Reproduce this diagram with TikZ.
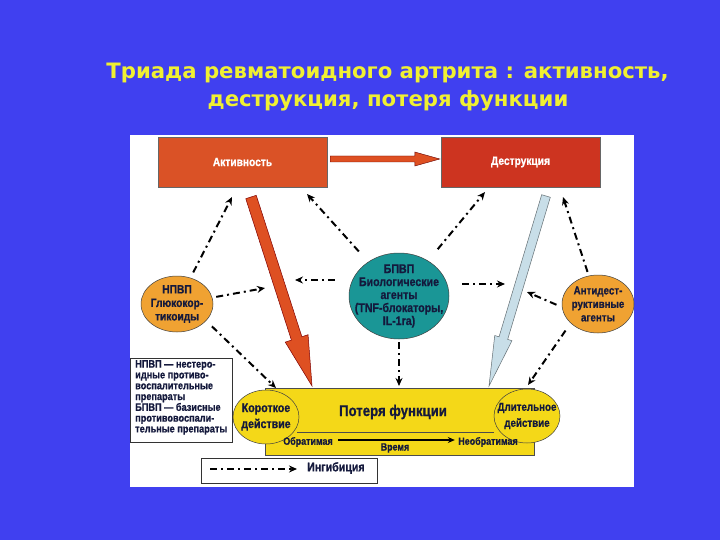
\documentclass[tikz,border=0pt]{standalone}
\usepackage{fontspec}
\usetikzlibrary{arrows.meta,calc,shapes.geometric}
\newfontfamily\ttlfont{DejaVu Sans}
\newfontfamily\cnd{Liberation Sans}[FakeStretch=0.85, BoldFeatures={FakeBold=0.8}]
\definecolor{bg}{RGB}{64,64,240}
\definecolor{ttl}{RGB}{240,240,50}
\definecolor{aktc}{RGB}{218,82,38}
\definecolor{desc}{RGB}{205,52,32}
\definecolor{redarr}{RGB}{222,80,34}
\definecolor{bluarr}{RGB}{200,222,232}
\definecolor{orc}{RGB}{240,162,50}
\definecolor{tealc}{RGB}{26,150,150}
\definecolor{yelc}{RGB}{244,216,24}
\definecolor{navy}{RGB}{20,25,60}
\newcommand\fatarrow[6]{%
  \coordinate (fa-b) at ($(#3)!#6!(#2)$);
  \draw[#1] ($(#2)!#4!90:(#3)$) -- ($(fa-b)!#4!90:(#3)$) -- ($(fa-b)!#5!90:(#3)$) -- (#3)
    -- ($(fa-b)!#5!-90:(#3)$) -- ($(fa-b)!#4!-90:(#3)$) -- ($(#2)!#4!-90:(#3)$) -- cycle;}
\tikzset{
  box/.style={rectangle, draw=black!60, line width=0.4pt, text=white, font=\cnd\bfseries\fontsize{12}{14}\selectfont, inner sep=0pt},
  ell/.style={ellipse, draw=black!75, line width=0.5pt, inner sep=0pt, align=center, text=navy},
  ytxt/.style={font=\cnd\bfseries\fontsize{12}{13.5}\selectfont, text=navy, align=center},
  inh/.style={line width=2pt, dash pattern=on 7pt off 4pt on 2pt off 4pt, -{Stealth[length=8pt,width=7pt]}},
  small/.style={font=\cnd\bfseries\fontsize{10.5}{12}\selectfont, text=navy},
}
\begin{document}
\begin{tikzpicture}[x=1pt,y=-1pt]
\fill[bg] (0,0) rectangle (720,540);
\useasboundingbox (0,0) rectangle (720,540);
\node[font=\ttlfont\bfseries\fontsize{21.2}{25}\selectfont, text=ttl, anchor=base] (t1) at (387.5,79) {Триада ревматоидного артрита : активность,};
\node[font=\ttlfont\bfseries\fontsize{21.2}{25}\selectfont, text=ttl, anchor=base] (t2) at (388,107) {деструкция, потеря функции};
\fill[white] (130,135) rectangle (634,487);
% top boxes
\node[box, fill=aktc, minimum width=169pt, minimum height=50pt] (akt) at (242.5,162) {Активность};
\node[box, fill=desc, minimum width=159pt, minimum height=50pt] (des) at (520.5,162) {Деструкция};
\coordinate (ha) at ([shift={(3pt,3pt)}]akt.east);
\coordinate (hb) at ([shift={(-1pt,3pt)}]des.west);
\fatarrow{fill=redarr, draw=black!60!red, line width=0.4pt}{ha}{hb}{3pt}{7pt}{25pt}
% bottom yellow box
\node[fill=yelc, draw=black!70, line width=0.4pt, minimum width=269pt, minimum height=67pt, anchor=north west, inner sep=0pt] (loss) at (265,388) {};
\draw[line width=0.4pt, black!70] (297,432) -- (494,432);
% big arrows
\coordinate (rs) at (251,197);
\coordinate (rt) at (312,386);
\fatarrow{fill=redarr, draw=black!50!red, line width=0.5pt}{rs}{rt}{5.5pt}{12pt}{50pt}
\coordinate (bs) at (546,196);
\coordinate (bt) at (489,386);
\fatarrow{fill=bluarr, draw=black!50!bluarr, line width=0.5pt}{bs}{bt}{4.5pt}{9pt}{50pt}
% ellipses
\node[ell, fill=orc, minimum width=72pt, minimum height=56pt] (npvp) at (177,304) {};
\node[ytxt] at (npvp) {НПВП\\Глюкокор-\\тикоиды};
\node[ell, fill=tealc, minimum width=100pt, minimum height=86pt] (bpvp) at (399,296) {};
\node[ytxt, font=\cnd\bfseries\fontsize{12.5}{13}\selectfont] at (bpvp) {БПВП\\Биологические\\агенты\\(TNF-блокаторы,\\IL-1ra)};
\node[ell, fill=orc, minimum width=72pt, minimum height=58pt] (anti) at (598,304) {};
\node[ytxt, font=\cnd\bfseries\fontsize{11.5}{13.5}\selectfont] at (anti) {Антидест-\\руктивные\\агенты};
\node[ell, fill=yelc, minimum width=66pt, minimum height=54pt] (short) at (266,417) {};
\node[ytxt, font=\cnd\bfseries\fontsize{12.5}{16}\selectfont] at (short) {Короткое\\действие};
\node[ell, fill=yelc, minimum width=66pt, minimum height=54pt] (long) at (527,416) {};
\node[ytxt, font=\cnd\bfseries\fontsize{11.5}{16}\selectfont] at (long) {Длительное\\действие};
% loss text and time axis
\node[font=\cnd\bfseries\fontsize{15.5}{17}\selectfont, text=navy] (losst) at (393,412) {Потеря функции};
\node[small] (obr) at (308,442) {Обратимая};
\node[small] (neobr) at (488,442) {Необратимая};
\node[small] (vrem) at (395,448) {Время};
\draw[line width=2.3pt, -{Stealth[length=7pt,width=6pt]}, shorten <=2pt] (obr.east |- 0,440) -- (neobr.west |- 0,440);
% inhibition connectors
\coordinate (e1) at (232,197);
\draw[inh, shorten <=6pt] (npvp) -- (e1);
\coordinate (e2) at (265,288);
\draw[inh, shorten <=4pt] (npvp) -- (e2);
\coordinate (e3) at (276,388);
\draw[inh, shorten <=8pt] (npvp.-30) -- (e3);
\coordinate (e4) at (307,194);
\draw[inh, shorten <=14pt] (bpvp) -- (e4);
\coordinate (e5) at (295,280);
\draw[inh, shorten <=14pt] (bpvp.west |- e5) -- (e5);
\coordinate (e6) at (485,192);
\draw[inh, shorten <=15pt] (bpvp) -- (e6);
\coordinate (e7) at (505,284);
\draw[inh, shorten <=13pt] (bpvp.east |- e7) -- (e7);
\draw[inh, shorten <=3pt, shorten >=2pt] (bpvp) -- (bpvp |- loss.north);
\coordinate (e9) at (563,197);
\draw[inh, shorten <=4pt] (anti) -- (e9);
\coordinate (e10) at (527,292);
\draw[inh, shorten <=6pt] (anti.185) -- (e10);
\coordinate (e11) at (528,385);
\draw[inh, shorten <=9pt] (anti.-145) -- (e11);
% legend
\node[draw=black!80, line width=0.5pt, fill=white, minimum width=102pt, minimum height=84pt, anchor=north west, inner sep=0pt] (legbox) at (130,358) {};
\node[anchor=north west, align=left, inner sep=0pt, font=\cnd\bfseries\fontsize{10.8}{10.8}\selectfont, text=navy] (legtext) at (135,360) {НПВП — нестеро-\\идные противо-\\воспалительные\\препараты\\БПВП — базисные\\противовоспали-\\тельные препараты};
\node[draw=black!80, line width=0.5pt, fill=white, minimum width=176pt, minimum height=25pt, anchor=north west, inner sep=0pt] (ingbox) at (201,458) {};
\coordinate (ia) at (210,469);
\coordinate (ib) at (297,469);
\draw[inh] (ia) -- (ib);
\node[anchor=west, inner sep=0pt, font=\cnd\bfseries\fontsize{12.5}{13}\selectfont, text=navy] (ing) at (307,468) {Ингибиция};
\end{tikzpicture}
\end{document}
